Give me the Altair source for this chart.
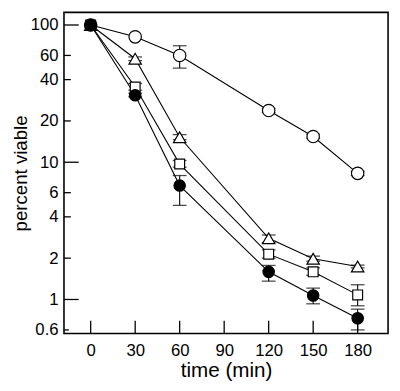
import altair as alt
import pandas as pd

times = [0, 30, 60, 120, 150, 180]
series_names = ["open circle", "open triangle", "open square", "filled circle"]

open_circle = [100, 82, 60, 23.8, 15.4, 8.3]
open_circle_lo = [None, None, 48.5, 23.0, 14.9, 8.0]
open_circle_hi = [None, None, 70.6, 24.6, 16.0, 8.6]

open_triangle = [100, 56.8, 15.2, 2.79, 1.98, 1.74]
open_triangle_lo = [None, 55.0, 14.6, 2.6, 1.9, 1.7]
open_triangle_hi = [None, 58.5, 15.9, 2.95, 2.07, 1.78]

open_square = [100, 35.3, 9.7, 2.14, 1.59, 1.08]
open_square_lo = [None, 33.5, 9.2, 2.0, 1.5, 0.9]
open_square_hi = [None, 37.5, 10.3, 2.3, 1.7, 1.28]

filled_circle = [100, 30.8, 6.76, 1.59, 1.07, 0.73]
filled_circle_lo = [None, 30.0, 4.85, 1.36, 0.93, 0.6]
filled_circle_hi = [None, 31.8, 8.0, 1.77, 1.21, 0.85]

x_tick_values = [0, 30, 60, 90, 120, 150, 180]
y_label_values = [0.6, 1, 2, 4, 6, 10, 20, 40, 60, 100]
y_major_ticks = [1, 10, 100]
y_minor_ticks = [2, 4, 6, 20, 40, 60]
y_small_ticks = [0.6]

series_data = [
    ("open circle", open_circle, open_circle_lo, open_circle_hi, "circle", "white", 160),
    ("open triangle", open_triangle, open_triangle_lo, open_triangle_hi, "triangle-up", "white", 160),
    ("open square", open_square, open_square_lo, open_square_hi, "square", "white", 100),
    ("filled circle", filled_circle, filled_circle_lo, filled_circle_hi, "circle", "black", 135),
]

W, H = 330, 327
FONT = "Liberation Sans"

xscale = alt.Scale(domain=[-18, 200.5], nice=False, zero=False)
yscale = alt.Scale(type="log", domain=[0.565, 123.6], nice=False)

x_axis = alt.Axis(values=x_tick_values, title="time (min)", ticks=False, domain=False,
                  grid=False, labelFontSize=17, labelPadding=9, titleFontSize=21,
                  titleFontWeight="normal", titlePadding=2, labelFont=FONT, titleFont=FONT,
                  labelColor="black", titleColor="black")
y_axis = alt.Axis(values=y_label_values, title="percent viable", ticks=False, domain=False,
                  grid=False, format="~g", labelFontSize=17, labelPadding=6, titleFontSize=19,
                  titleFontWeight="normal", titlePadding=0, labelFont=FONT, titleFont=FONT,
                  labelColor="black", titleColor="black", labelFlush=False)

layers = []
for name, vals, lo, hi, shape, fill, size in series_data:
    df = pd.DataFrame({"time": times, "value": vals, "lo": lo, "hi": hi})
    base = alt.Chart(df)
    layers.append(base.mark_line(color="black", strokeWidth=1.1).encode(
        x=alt.X("time:Q", scale=xscale, axis=x_axis),
        y=alt.Y("value:Q", scale=yscale, axis=y_axis)))
    err = base.transform_filter("isValid(datum.lo)")
    layers.append(err.mark_rule(color="black", strokeWidth=1.1).encode(
        x=alt.X("time:Q", scale=xscale, axis=x_axis),
        y=alt.Y("lo:Q", scale=yscale, axis=y_axis), y2="hi:Q"))
    layers.append(err.mark_tick(color="black", thickness=1.3, size=14, orient="horizontal").encode(
        x=alt.X("time:Q", scale=xscale, axis=x_axis),
        y=alt.Y("lo:Q", scale=yscale, axis=y_axis)))
    layers.append(err.mark_tick(color="black", thickness=1.3, size=14, orient="horizontal").encode(
        x=alt.X("time:Q", scale=xscale, axis=x_axis),
        y=alt.Y("hi:Q", scale=yscale, axis=y_axis)))

for name, vals, lo, hi, shape, fill, size in series_data:
    df = pd.DataFrame({"time": times, "value": vals})
    layers.append(alt.Chart(df).mark_point(shape=shape, filled=True, fill=fill, stroke="black",
                                           strokeWidth=1.2, size=size, opacity=1).encode(
        x=alt.X("time:Q", scale=xscale, axis=x_axis),
        y=alt.Y("value:Q", scale=yscale, axis=y_axis)))

# inward axis ticks
layers.append(alt.Chart(pd.DataFrame({"time": x_tick_values})).mark_rule(
    color="black", strokeWidth=1.3).encode(
    x=alt.X("time:Q", scale=xscale, axis=x_axis), y=alt.value(H), y2=alt.value(H - 13)))
for vals, length in [(y_major_ticks, 15), (y_minor_ticks, 7), (y_small_ticks, 5)]:
    layers.append(alt.Chart(pd.DataFrame({"value": vals})).mark_rule(
        color="black", strokeWidth=1.3).encode(
        y=alt.Y("value:Q", scale=yscale, axis=y_axis), x=alt.value(0), x2=alt.value(length)))

chart = alt.layer(*layers).properties(
    width=W, height=H,
    background="white",
    autosize=alt.AutoSizeParams(type="none"),
    padding={"left": 57, "top": 1, "right": 4, "bottom": 50},
).configure_view(stroke="black", strokeWidth=1.6)

chart.save("out.html", embed_options={"renderer": "svg", "actions": False})
